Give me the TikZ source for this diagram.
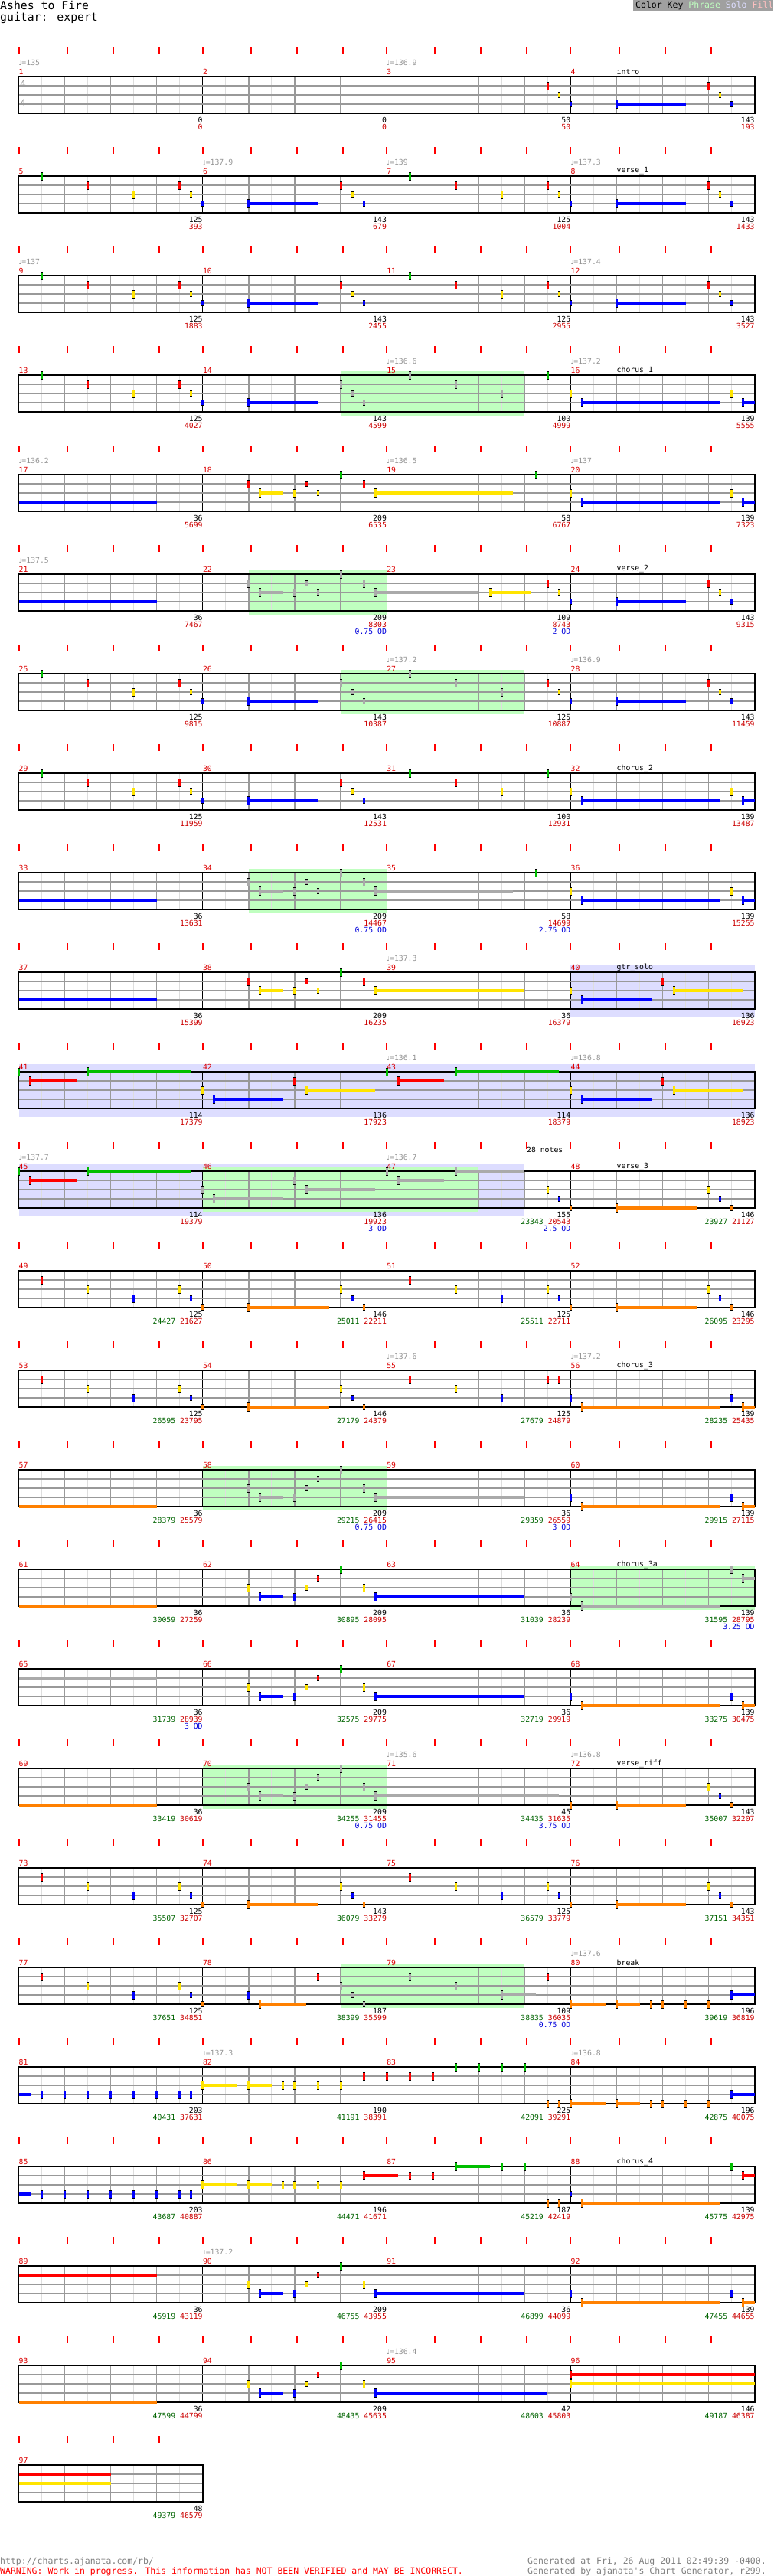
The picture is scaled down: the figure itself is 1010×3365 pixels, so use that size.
\documentclass[tikz,border=0pt]{standalone}
\usepackage{fontspec}
\newfontfamily\chartfont{DejaVu Sans Mono}
\newfontfamily\notefont{DejaVu Sans}

% colores de carriles y textos
\definecolor{cg}{RGB}{0,190,0}
\definecolor{cr}{RGB}{255,0,0}
\definecolor{cy}{RGB}{255,228,0}
\definecolor{cb}{RGB}{0,0,255}
\definecolor{co}{RGB}{255,128,0}
\definecolor{cx}{RGB}{170,170,170}
\definecolor{mred}{RGB}{220,0,0}
\definecolor{sred}{RGB}{204,0,0}
\definecolor{sgreen}{RGB}{0,100,0}
\definecolor{odblue}{RGB}{0,0,220}
\definecolor{phr}{RGB}{192,255,192}
\definecolor{sol}{RGB}{221,221,255}
\definecolor{keygray}{RGB}{160,160,160}
\definecolor{fillpink}{RGB}{255,192,192}

% altura de cada carril
\def\lyg{0}\def\lyr{12}\def\lyy{24}\def\lyb{36}\def\lyo{48}

% notas
\newcommand\pickcol[2]{\def\tmpc{#1}\ifx\tmpc\empty\def\tmpc{c#2}\fi}
\newcommand\notebar[4]{%
  \pickcol{#1}{#2}%
  \fill[black] ({#3-0.1},{\csname ly#2\endcsname-#4}) rectangle ({#3+0.1},{\csname ly#2\endcsname+#4});
  \fill[\tmpc] ({#3-0.1},{\csname ly#2\endcsname-#4+1}) rectangle ({#3+0.1},{\csname ly#2\endcsname+#4-1});
}
\newcommand\nnote[3][]{\notebar{#1}{#2}{#3}{5.5}}
\newcommand\hnote[3][]{\notebar{#1}{#2}{#3}{4.3}}
\newcommand\tnote[4][]{\pickcol{#1}{#2}\draw[\tmpc, line width=3.6pt] ({#3},{\csname ly#2\endcsname}) -- ({#4},{\csname ly#2\endcsname});}
\newcommand\snote[4][]{\tnote[#1]{#2}{#3}{#4}\notebar{#1}{#2}{#3}{6}}

% pentagrama de una fila
\newcommand\staff[2]{%
  \pgfmathtruncatemacro\nbeats{4*#2}
  \pgfmathtruncatemacro\xend{16*#2}
  % marcas de pulso
  \foreach \k in {1,...,\nbeats} {
    \pgfmathsetmacro\tx{4*(\k-1)+0.2*(mod(\k-1,4)>0)}
    \draw[tick] (\tx,-38) -- (\tx,-29);
  }
  % rejilla
  \foreach \k in {1,...,\nbeats} {
    \draw[halfline] ({4*\k-2},0) -- ({4*\k-2},48);
    \draw[beatline] ({4*\k},0) -- ({4*\k},48);
  }
  \foreach \k in {1,...,#2} \draw[barline] ({16*\k},0) -- ({16*\k},48);
  \foreach \y in {12,24,36} \draw[laneline] (0,\y) -- (\xend,\y);
  \draw[staffbox] (0,0) rectangle (\xend,48);
  % numeros de compas
  \foreach \k in {1,...,#2} {
    \pgfmathtruncatemacro\mnum{4*#1+\k}
    \node[mnum] (m\mnum) at ({16*(\k-1)},-6.5) {\mnum};
  }
}
\newcommand\odzone[2]{\fill[phr] (#1,-5) rectangle (#2,53);}
\newcommand\solozone[2]{\fill[sol] (#1,-10) rectangle (#2,59);}
\newcommand\tempo[2]{\node[tmp] (t\R-#1) at (#1,-18) {{\notefont\fontsize{8}{8}\selectfont ♩}=#2};}
\newcommand\seclabel[1]{\node[seclab] (sec\R) at (52,-6.5) {#1};}
\newcommand\score[3]{\node[scb] (sb\R-#1) at (#1,57) {#2};
  \node[scr] (sr\R-#1) at (#1,66.3) {#3};}
\newcommand\scoreg[4]{\node[scb] (sb\R-#1) at (#1,57) {#2};
  \node[scr] (sr\R-#1) at (#1,66.3) {\textcolor{sgreen}{#3} #4};}
\newcommand\od[2]{\node[sco] (od\R-#1) at (#1,75.3) {#2 OD};}

% frases que se repiten
\newcommand\rifA[2][]{\nnote[#1]{g}{#2+2}\nnote[#1]{r}{#2+6}\nnote[#1]{y}{#2+10}}
\newcommand\rifB[2][]{\nnote[#1]{r}{#2+14}\hnote[#1]{y}{#2+15}\hnote[#1]{b}{#2+16}\snote[#1]{b}{#2+20}{#2+26}}
\newcommand\rifC[2][]{\nnote[#1]{r}{#2+28}\hnote[#1]{y}{#2+29}\hnote[#1]{b}{#2+30}}
\newcommand\rifF{\nnote{y}{48}\snote{b}{49}{61}\nnote{y}{62}\snote{b}{63}{64}}
\newcommand\rifS[2][]{\nnote[#1]{r}{20}\snote[#1]{y}{21}{23}\nnote[#1]{y}{24}\hnote[#1]{r}{25}\hnote[#1]{y}{26}\nnote[#1]{g}{28}\nnote[#1]{r}{30}\snote[#1]{y}{31}{#2}}
\newcommand\rifG[2][]{\nnote[#1]{g}{#2}\snote[#1]{r}{#2+1}{#2+5}\snote[#1]{g}{#2+6}{#2+15}}
\newcommand\rifH[2][]{\nnote[#1]{y}{#2+16}\snote[#1]{b}{#2+17}{#2+23}\nnote[#1]{r}{#2+24}\snote[#1]{y}{#2+25}{#2+31}}
\newcommand\rifK[1]{\nnote{r}{#1+2}\nnote{y}{#1+6}\nnote{b}{#1+10}}
\newcommand\rifL[2]{\nnote{y}{#1+14}\hnote{b}{#1+15}\hnote{o}{#1+16}\snote{o}{#1+20}{#2}\nnote{y}{#1+28}\hnote{b}{#1+29}\hnote{o}{#1+30}}
\newcommand\rifD[2][]{\nnote[#1]{y}{20}\snote[#1]{b}{21}{23}\nnote[#1]{b}{24}\hnote[#1]{y}{25}\hnote[#1]{r}{26}\nnote[#1]{g}{28}\nnote[#1]{y}{30}\snote[#1]{b}{31}{#2}}
\newcommand\rifM{\nnote{b}{48}\snote{o}{49}{61}\nnote{b}{62}\snote{o}{63}{64}}
\newcommand\rifN{\snote{o}{48}{51}\snote{o}{52}{54}\nnote{o}{55}\nnote{o}{56}\nnote{o}{58}\nnote{o}{60}\snote{b}{62}{64}}
\newcommand\rifQ{\tnote{b}{0}{1}\foreach \s in {2,4,...,14} {\nnote{b}{\s}}\nnote{b}{15}%
  \snote{y}{16}{19}\snote{y}{20}{22}\nnote{y}{23}\nnote{y}{24}\nnote{y}{26}\nnote{y}{28}}

\begin{document}
\begin{tikzpicture}[x=1pt, y=-1pt,
  chartrow/.style={shift={(24.5,{100+130*#1})}, x=15.02pt},
  tick/.style={draw=red, line width=2pt},
  halfline/.style={draw=black!13, line width=1pt},
  beatline/.style={draw=black!40, line width=1.2pt},
  barline/.style={draw=black, line width=1pt},
  laneline/.style={draw=black!40, line width=1.4pt},
  staffbox/.style={draw=black, line width=1.8pt},
  small/.style={inner sep=0, font=\chartfont\fontsize{9.8}{10}\selectfont},
  mnum/.style={small, anchor=west, text=mred},
  tmp/.style={small, anchor=west, text=black!42},
  seclab/.style={small, anchor=west, text=black},
  scb/.style={small, anchor=east, text=black},
  scr/.style={small, anchor=east, text=sred},
  sco/.style={small, anchor=east, text=odblue},
  tsig/.style={inner sep=0, font=\chartfont\fontsize{13}{13}\selectfont, text=black!40},
  foot/.style={anchor=base west, inner sep=0, font=\chartfont\fontsize{11.5}{12}\selectfont}]
\useasboundingbox (0,0) rectangle (1010,3365);
\fill[white] (0,0) rectangle (1010,3365);

% Cabecera
\node[anchor=base west, inner sep=0, font=\chartfont\fontsize{14.8}{16}\selectfont] (title) at (0,12.7) {Ashes to Fire};
\node[anchor=base west, inner sep=0, font=\chartfont\fontsize{14.8}{16}\selectfont] (inst) at (0,27) {guitar: expert};
\fill[keygray] (827,0) rectangle (1010,15);
\node[foot] (key) at (830,10.7) {Color Key \textcolor{phr}{Phrase} \textcolor{sol}{Solo} \textcolor{fillpink}{Fill}};

% Compases 1-4
\begin{scope}[chartrow=0]\def\R{0}
  \staff{0}{4}
  \node[tsig] (ts1) at (0.37,10) {4};
  \node[tsig] (ts2) at (0.37,35) {4};
  \tempo{0}{135}\tempo{32}{136.9}
  \seclabel{intro}
  \rifB{32}\rifC{32}
  \score{16}{0}{0}\score{32}{0}{0}\score{48}{50}{50}\score{64}{143}{193}
\end{scope}

% Compases 5-8
\begin{scope}[chartrow=1]\def\R{1}
  \staff{1}{4}
  \tempo{16}{137.9}\tempo{32}{139}\tempo{48}{137.3}
  \seclabel{verse\_1}
  \rifA{0}\rifB{0}\rifC{0}\rifA{32}\rifB{32}\rifC{32}
  \score{16}{125}{393}\score{32}{143}{679}\score{48}{125}{1004}\score{64}{143}{1433}
\end{scope}

% Compases 9-12
\begin{scope}[chartrow=2]\def\R{2}
  \staff{2}{4}
  \tempo{0}{137}\tempo{48}{137.4}
  \rifA{0}\rifB{0}\rifC{0}\rifA{32}\rifB{32}\rifC{32}
  \score{16}{125}{1883}\score{32}{143}{2455}\score{48}{125}{2955}\score{64}{143}{3527}
\end{scope}

% Compases 13-16
\begin{scope}[chartrow=3]\def\R{3}
  \odzone{28}{44}
  \staff{3}{4}
  \tempo{32}{136.6}\tempo{48}{137.2}
  \seclabel{chorus\_1}
  \rifA{0}\rifB{0}\rifC[cx]{0}\rifA[cx]{32}
  \nnote{g}{46}\rifF
  \score{16}{125}{4027}\score{32}{143}{4599}\score{48}{100}{4999}\score{64}{139}{5555}
\end{scope}

% Compases 17-20
\begin{scope}[chartrow=4]\def\R{4}
  \staff{4}{4}
  \tempo{0}{136.2}\tempo{32}{136.5}\tempo{48}{137}
  \tnote{b}{0}{12}\rifS{43}\nnote{g}{45}\rifF
  \score{16}{36}{5699}\score{32}{209}{6535}\score{48}{58}{6767}\score{64}{139}{7323}
\end{scope}

% Compases 21-24
\begin{scope}[chartrow=5]\def\R{5}
  \odzone{20}{32}
  \staff{5}{4}
  \tempo{0}{137.5}
  \seclabel{verse\_2}
  \tnote{b}{0}{12}\rifS[cx]{40}\snote{y}{41}{44.5}\rifB{32}\rifC{32}
  \score{16}{36}{7467}\score{32}{209}{8303}\score{48}{109}{8743}\score{64}{143}{9315}
  \od{32}{0.75}\od{48}{2}
\end{scope}

% Compases 25-28
\begin{scope}[chartrow=6]\def\R{6}
  \odzone{28}{44}
  \staff{6}{4}
  \tempo{32}{137.2}\tempo{48}{136.9}
  \rifA{0}\rifB{0}\rifC[cx]{0}\rifA[cx]{32}\rifB{32}\rifC{32}
  \score{16}{125}{9815}\score{32}{143}{10387}\score{48}{125}{10887}\score{64}{143}{11459}
\end{scope}

% Compases 29-32
\begin{scope}[chartrow=7]\def\R{7}
  \staff{7}{4}
  \seclabel{chorus\_2}
  \rifA{0}\rifB{0}\rifC{0}\rifA{32}\nnote{g}{46}\rifF
  \score{16}{125}{11959}\score{32}{143}{12531}\score{48}{100}{12931}\score{64}{139}{13487}
\end{scope}

% Compases 33-36
\begin{scope}[chartrow=8]\def\R{8}
  \odzone{20}{32}
  \staff{8}{4}
  \tnote{b}{0}{12}\rifS[cx]{43}\nnote{g}{45}\rifF
  \score{16}{36}{13631}\score{32}{209}{14467}\score{48}{58}{14699}\score{64}{139}{15255}
  \od{32}{0.75}\od{48}{2.75}
\end{scope}

% Compases 37-40
\begin{scope}[chartrow=9]\def\R{9}
  \solozone{48}{64}
  \staff{9}{4}
  \tempo{32}{137.3}
  \seclabel{gtr\_solo}
  \tnote{b}{0}{12}\rifS{44}\rifH{32}
  \score{16}{36}{15399}\score{32}{209}{16235}\score{48}{36}{16379}\score{64}{136}{16923}
\end{scope}

% Compases 41-44
\begin{scope}[chartrow=10]\def\R{10}
  \solozone{0}{64}
  \staff{10}{4}
  \tempo{32}{136.1}\tempo{48}{136.8}
  \rifG{0}\rifH{0}\rifG{32}\rifH{32}
  \score{16}{114}{17379}\score{32}{136}{17923}\score{48}{114}{18379}\score{64}{136}{18923}
\end{scope}

% Compases 45-48
\begin{scope}[chartrow=11]\def\R{11}
  \solozone{0}{44}
  \odzone{16}{40}
  \staff{11}{4}
  \node[seclab] (n28) at (44.17,-28) {28 notes};
  \tempo{0}{137.7}\tempo{32}{136.7}
  \seclabel{verse\_3}
  \rifG{0}\rifH[cx]{0}
  \nnote[cx]{g}{32}\snote[cx]{r}{33}{37}\snote[cx]{g}{38}{44}
  \rifL{32}{59}
  \score{16}{114}{19379}\score{32}{136}{19923}
  \scoreg{48}{155}{23343}{20543}\scoreg{64}{146}{23927}{21127}
  \od{32}{3}\od{48}{2.5}
\end{scope}

% Compases 49-52
\begin{scope}[chartrow=12]\def\R{12}
  \staff{12}{4}
  \rifK{0}\rifL{0}{27}\rifK{32}\rifL{32}{59}
  \scoreg{16}{125}{24427}{21627}\scoreg{32}{146}{25011}{22211}
  \scoreg{48}{125}{25511}{22711}\scoreg{64}{146}{26095}{23295}
\end{scope}

% Compases 53-56
\begin{scope}[chartrow=13]\def\R{13}
  \staff{13}{4}
  \tempo{32}{137.6}\tempo{48}{137.2}
  \seclabel{chorus\_3}
  \rifK{0}\rifL{0}{27}\rifK{32}\nnote{r}{46}\nnote{r}{47}\rifM
  \scoreg{16}{125}{26595}{23795}\scoreg{32}{146}{27179}{24379}
  \scoreg{48}{125}{27679}{24879}\scoreg{64}{139}{28235}{25435}
\end{scope}

% Compases 57-60
\begin{scope}[chartrow=14]\def\R{14}
  \odzone{16}{32}
  \staff{14}{4}
  \tnote{o}{0}{12}\rifD[cx]{44}\rifM
  \scoreg{16}{36}{28379}{25579}\scoreg{32}{209}{29215}{26415}
  \scoreg{48}{36}{29359}{26559}\scoreg{64}{139}{29915}{27115}
  \od{32}{0.75}\od{48}{3}
\end{scope}

% Compases 61-64
\begin{scope}[chartrow=15]\def\R{15}
  \odzone{48}{64}
  \staff{15}{4}
  \seclabel{chorus\_3a}
  \tnote{o}{0}{12}\rifD{44}
  \nnote[cx]{b}{48}\snote[cx]{o}{49}{61}\nnote[cx]{g}{62}\snote[cx]{r}{63}{64}
  \scoreg{16}{36}{30059}{27259}\scoreg{32}{209}{30895}{28095}
  \scoreg{48}{36}{31039}{28239}\scoreg{64}{139}{31595}{28795}
  \od{64}{3.25}
\end{scope}

% Compases 65-68
\begin{scope}[chartrow=16]\def\R{16}
  \staff{16}{4}
  \tnote[cx]{r}{0}{12}\rifD{44}\rifM
  \scoreg{16}{36}{31739}{28939}\scoreg{32}{209}{32575}{29775}
  \scoreg{48}{36}{32719}{29919}\scoreg{64}{139}{33275}{30475}
  \od{16}{3}
\end{scope}

% Compases 69-72
\begin{scope}[chartrow=17]\def\R{17}
  \odzone{16}{32}
  \staff{17}{4}
  \tempo{32}{135.6}\tempo{48}{136.8}
  \seclabel{verse\_riff}
  \tnote{o}{0}{12}\rifD[cx]{47}
  \nnote{o}{48}\snote{o}{52}{58}\nnote{y}{60}\hnote{b}{61}\hnote{o}{62}
  \scoreg{16}{36}{33419}{30619}\scoreg{32}{209}{34255}{31455}
  \scoreg{48}{45}{34435}{31635}\scoreg{64}{143}{35007}{32207}
  \od{32}{0.75}\od{48}{3.75}
\end{scope}

% Compases 73-76
\begin{scope}[chartrow=18]\def\R{18}
  \staff{18}{4}
  \rifK{0}\rifL{0}{26}\rifK{32}\rifL{32}{58}
  \scoreg{16}{125}{35507}{32707}\scoreg{32}{143}{36079}{33279}
  \scoreg{48}{125}{36579}{33779}\scoreg{64}{143}{37151}{34351}
\end{scope}

% Compases 77-80
\begin{scope}[chartrow=19]\def\R{19}
  \odzone{28}{44}
  \staff{19}{4}
  \tempo{48}{137.6}
  \seclabel{break}
  \rifK{0}\nnote{y}{14}\hnote{b}{15}\hnote{o}{16}
  \nnote{b}{20}\snote{o}{21}{25}\nnote{r}{26}
  \nnote[cx]{y}{28}\hnote[cx]{b}{29}\hnote[cx]{o}{30}\nnote[cx]{r}{34}\nnote[cx]{y}{38}\snote[cx]{b}{42}{45}
  \nnote{r}{46}\rifN
  \scoreg{16}{125}{37651}{34851}\scoreg{32}{187}{38399}{35599}
  \scoreg{48}{109}{38835}{36035}\scoreg{64}{196}{39619}{36819}
  \od{48}{0.75}
\end{scope}

% Compases 81-84
\begin{scope}[chartrow=20]\def\R{20}
  \staff{20}{4}
  \tempo{16}{137.3}\tempo{48}{136.8}
  \rifQ
  \nnote{r}{30}\nnote{r}{32}\nnote{r}{34}\nnote{r}{36}
  \nnote{g}{38}\nnote{g}{40}\nnote{g}{42}\nnote{g}{44}
  \nnote{o}{46}\nnote{o}{47}\rifN
  \scoreg{16}{203}{40431}{37631}\scoreg{32}{190}{41191}{38391}
  \scoreg{48}{225}{42091}{39291}\scoreg{64}{196}{42875}{40075}
\end{scope}

% Compases 85-88
\begin{scope}[chartrow=21]\def\R{21}
  \staff{21}{4}
  \seclabel{chorus\_4}
  \rifQ
  \snote{r}{30}{33}\nnote{r}{34}\nnote{r}{36}
  \snote{g}{38}{41}\nnote{g}{42}\nnote{g}{44}
  \nnote{o}{46}\nnote{o}{47}\hnote{b}{48}\snote{o}{49}{61}\nnote{g}{62}\snote{r}{63}{64}
  \scoreg{16}{203}{43687}{40887}\scoreg{32}{196}{44471}{41671}
  \scoreg{48}{187}{45219}{42419}\scoreg{64}{139}{45775}{42975}
\end{scope}

% Compases 89-92
\begin{scope}[chartrow=22]\def\R{22}
  \staff{22}{4}
  \tempo{16}{137.2}
  \tnote{r}{0}{12}\rifD{44}\rifM
  \scoreg{16}{36}{45919}{43119}\scoreg{32}{209}{46755}{43955}
  \scoreg{48}{36}{46899}{44099}\scoreg{64}{139}{47455}{44655}
\end{scope}

% Compases 93-96
\begin{scope}[chartrow=23]\def\R{23}
  \staff{23}{4}
  \tempo{32}{136.4}
  \tnote{o}{0}{12}\rifD{46}\snote{r}{48}{64}\snote{y}{48}{64}
  \scoreg{16}{36}{47599}{44799}\scoreg{32}{209}{48435}{45635}
  \scoreg{48}{42}{48603}{45803}\scoreg{64}{146}{49187}{46387}
\end{scope}

% Compas 97
\begin{scope}[chartrow=24]\def\R{24}
  \staff{24}{1}
  \tnote{r}{0}{8}\tnote{y}{0}{8}
  \scoreg{16}{48}{49379}{46579}
\end{scope}

% Pie
\node[foot, text=black!50] (url) at (0,3349) {http://charts.ajanata.com/rb/};
\node[foot, text=red] (warn) at (0,3362.5) {WARNING: Work in progress. This information has NOT BEEN VERIFIED and MAY BE INCORRECT.};
\node[foot, text=black!50] (gen1) at (689,3349) {Generated at Fri, 26 Aug 2011 02:49:39 -0400.};
\node[foot, text=black!50] (gen2) at (689,3362.5) {Generated by ajanata's Chart Generator, r299.};
\end{tikzpicture}
\end{document}
